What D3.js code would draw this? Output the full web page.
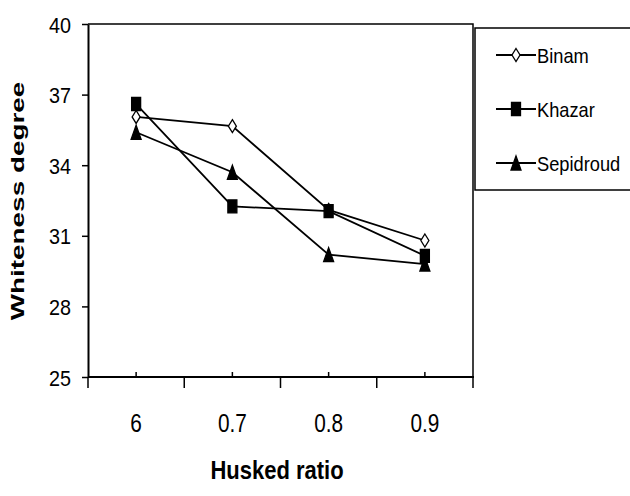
<!DOCTYPE html>
<html>
<head>
<meta charset="utf-8">
<script src="https://cdn.jsdelivr.net/npm/d3@7"></script>
<style>
  body { margin: 0; background: #fff; }
  svg { display: block; }
  text { font-family: "Liberation Sans", Arial, sans-serif; fill: #000; }
</style>
</head>
<body>
<svg width="630" height="496"></svg>
<script>
'use strict'

// chart data
const categories = ['6', '0.7', '0.8', '0.9'];
const yTicks = [25, 28, 31, 34, 37, 40];
const seriesNames = ['Binam', 'Khazar', 'Sepidroud'];
const binam = [36.05, 35.66, 32.1, 30.8];
const khazar = [36.6, 32.25, 32.05, 30.15];
const sepidroud = [35.4, 33.7, 30.2, 29.8];

const series = [
  { name: seriesNames[0], values: binam, shape: 'diamond' },
  { name: seriesNames[1], values: khazar, shape: 'square' },
  { name: seriesNames[2], values: sepidroud, shape: 'triangle' }
];

const svg = d3.select('svg');
const plotLeft = 88, plotRight = 473, plotTop = 24, plotBottom = 377;

const x = d3.scaleBand().domain(categories).range([plotLeft, plotRight]);
const y = d3.scaleLinear().domain([25, 40]).range([plotBottom, plotTop]);
const cx = d => x(d) + x.bandwidth() / 2;

// marker paths (tall, like the stretched original)
function markerPath(shape) {
  if (shape === 'diamond') return 'M0,-6.5L4,0L0,6.5L-4,0Z';
  if (shape === 'square') return 'M-4.5,-6.5H4.5V6.5H-4.5Z';
  return 'M0,-7L5,7H-5Z';
}

// plot frame: top and right border
svg.append('path')
  .attr('d', `M${plotLeft},${plotTop}H${plotRight}V${plotBottom}`)
  .attr('fill', 'none')
  .attr('stroke', '#000')
  .attr('stroke-width', 1.5);

// y axis
const yAxis = svg.append('g')
  .attr('transform', `translate(${plotLeft},0)`)
  .call(d3.axisLeft(y).tickValues(yTicks).tickSize(6).tickSizeOuter(0).tickFormat(d3.format('d')));
yAxis.select('.domain').attr('stroke-width', 2);
yAxis.selectAll('.tick line').attr('stroke-width', 1.5);
yAxis.selectAll('.tick text')
  .attr('x', null).attr('dy', null)
  .attr('transform', 'translate(-17,8) scale(0.9,1)')
  .attr('text-anchor', 'end')
  .style('font-size', '22px');

// x axis: small inner ticks at centres, long outer ticks at band edges
const xg = svg.append('g').attr('transform', `translate(0,${plotBottom})`);
xg.append('line').attr('x1', plotLeft).attr('x2', plotRight + 1)
  .attr('stroke', '#000').attr('stroke-width', 2);
xg.selectAll('.inner').data(categories).join('line')
  .attr('x1', cx).attr('x2', cx)
  .attr('y1', 0).attr('y2', -5)
  .attr('stroke', '#000').attr('stroke-width', 1.5);
const edges = categories.map(d => x(d)).concat([x.range()[1]]);
xg.selectAll('.edge').data(edges).join('line')
  .attr('x1', d => d).attr('x2', d => d)
  .attr('y1', 0).attr('y2', 11)
  .attr('stroke', '#000').attr('stroke-width', 1.5);
xg.selectAll('.lbl').data(categories).join('text')
  .attr('transform', d => `translate(${cx(d)},55) scale(0.8,1)`)
  .attr('text-anchor', 'middle')
  .style('font-size', '26px')
  .text(d => d);

// axis titles
svg.append('text')
  .attr('transform', 'translate(277,479) scale(0.88,1)')
  .attr('text-anchor', 'middle')
  .style('font-size', '25px').style('font-weight', 'bold')
  .text('Husked ratio');

svg.append('text')
  .attr('transform', 'translate(24,201) rotate(-90) scale(1.55,1)')
  .attr('text-anchor', 'middle')
  .style('font-size', '18px').style('font-weight', 'bold')
  .text('Whiteness degree');

// lines
const line = d3.line()
  .x((d, i) => cx(categories[i]))
  .y(d => y(d));

svg.selectAll('.series').data(series).join('path')
  .attr('d', d => line(d.values))
  .attr('fill', 'none')
  .attr('stroke', '#000')
  .attr('stroke-width', 1.8);

// markers
series.forEach(s => {
  svg.append('g').selectAll('path').data(s.values).join('path')
    .attr('transform', (d, i) => `translate(${cx(categories[i])},${y(d)})`)
    .attr('d', markerPath(s.shape))
    .attr('fill', s.shape === 'diamond' ? '#fff' : '#000')
    .attr('stroke', '#000')
    .attr('stroke-width', 1.3);
});

// legend
const lg = svg.append('g');
lg.append('rect')
  .attr('x', 475).attr('y', 28).attr('width', 200).attr('height', 162)
  .attr('fill', '#fff').attr('stroke', '#000').attr('stroke-width', 1.5);
const items = lg.selectAll('.item').data(series).join('g')
  .attr('transform', (d, i) => `translate(0,${55 + i * 54})`);
items.append('line').attr('x1', 496).attr('x2', 536)
  .attr('stroke', '#000').attr('stroke-width', 1.8);
items.append('path')
  .attr('transform', 'translate(516,0)')
  .attr('d', d => markerPath(d.shape))
  .attr('fill', d => d.shape === 'diamond' ? '#fff' : '#000')
  .attr('stroke', '#000').attr('stroke-width', 1.3);
items.append('text')
  .attr('transform', 'translate(537,8) scale(0.87,1)')
  .style('font-size', '21px')
  .text(d => d.name);
</script>
</body>
</html>
